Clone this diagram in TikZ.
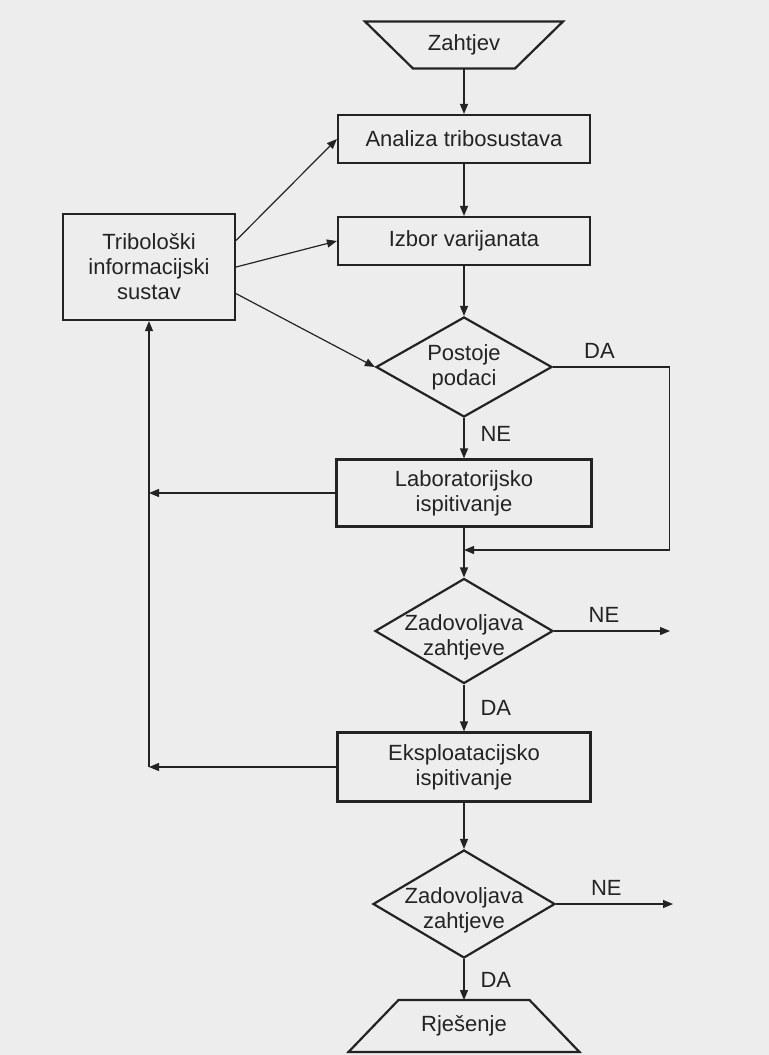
\documentclass[tikz,border=0pt]{standalone}
\usepackage{fontspec}
\setmainfont{Liberation Sans}
\usetikzlibrary{arrows.meta,shapes.geometric,calc}
\definecolor{paper}{RGB}{237,237,237}
\definecolor{ink}{RGB}{35,35,35}

\begin{document}
\begin{tikzpicture}[x=0.5pt,y=-0.5pt,font=\fontsize{11}{12.5}\selectfont,text=ink,
  box/.style={draw=ink,line width=1.1pt,align=center,inner sep=2pt},
  dia/.style={draw=ink,diamond,line width=1.1pt,inner sep=0pt},
  trap/.style={inner sep=0pt,outer sep=0pt},
  rub/.style={draw=ink,line width=1.1pt,line join=miter},
  txt/.style={align=center,inner sep=0pt,text=ink},
  arr/.style={draw=ink,line width=0.6pt,-{Triangle[length=5pt,width=4pt]}}]
\fill[paper] (0,0) rectangle (769,1055);
\useasboundingbox (0,0) rectangle (769,1055);

\node[trap,minimum width=99pt,minimum height=23.5pt] (zah) at (464,45) {Zahtjev};
\node[box,minimum width=126pt,minimum height=24pt] (ana) at (464,139) {Analiza tribosustava};
\node[box,minimum width=126pt,minimum height=24pt] (izb) at (464,241) {Izbor varijanata};
\node[box,minimum width=86pt,minimum height=53pt] (trib) at (149,267) {Tribološki\\informacijski\\sustav};
\node[dia,minimum width=88pt,minimum height=50pt,label={[txt]center:{Postoje\\podaci}}] (post) at (464,367) {};
\node[box,minimum width=127.5pt,minimum height=33.5pt] (lab) at (464,493) {Laboratorijsko\\ispitivanje};
\node[dia,minimum width=89pt,minimum height=52.5pt,label={[txt,yshift=-3pt]center:{Zadovoljava\\zahtjeve}}] (zad1) at (464,631) {};
\node[box,minimum width=126.5pt,minimum height=34.5pt] (eks) at (464,767) {Eksploatacijsko\\ispitivanje};
\node[dia,minimum width=91pt,minimum height=54pt,label={[txt,yshift=-3pt]center:{Zadovoljava\\zahtjeve}}] (zad2) at (464,904) {};
\node[trap,minimum width=115.5pt,minimum height=26pt] (rje) at (464,1026) {Rješenje};

\draw[rub] (zah.north west) -- (zah.north east) -- ($(zah.south east)+(-48,0)$) -- ($(zah.south west)+(48,0)$) -- cycle;
\draw[rub] (rje.south west) -- (rje.south east) -- ($(rje.north east)+(-50,0)$) -- ($(rje.north west)+(50,0)$) -- cycle;

\coordinate (spoj) at (464,550);
\coordinate (ne1) at (670,631);
\coordinate (ne2) at (673,904);
\coordinate (povrat) at (trib.south |- eks.west);

\draw[arr] (zah) -- (ana);
\draw[arr] (ana) -- (izb);
\draw[arr] (izb) -- (post);
\draw[arr] (post) -- node[right,pos=.4,txt,xshift=8pt] {NE} (lab);
\draw[arr] (lab) -- (zad1);
\draw[arr] (post.east) -- node[above,pos=.4,txt,yshift=4pt] {DA} ++(116,0) |- (spoj);
\draw[arr] (zad1) -- node[right,txt,xshift=8pt] {DA} (eks);
\draw[arr] (zad1.east) -- node[above,pos=.43,txt,yshift=4pt] {NE} (ne1);
\draw[arr] (eks) -- (zad2);
\draw[arr] (zad2.east) -- node[above,pos=.43,txt,yshift=4pt] {NE} (ne2);
\draw[arr] (zad2) -- node[right,txt,xshift=8pt] {DA} (rje);

\draw[arr] (lab.west) -- (lab.west -| povrat);
\draw[arr] (eks.west) -- (povrat);
\draw[arr] (povrat) -- (trib.south);
\draw[arr] (trib.17) -- (ana.west);
\draw[arr] (trib.east) -- (izb.west);
\draw[arr] (trib.-17) -- (post.west);
\end{tikzpicture}
\end{document}
